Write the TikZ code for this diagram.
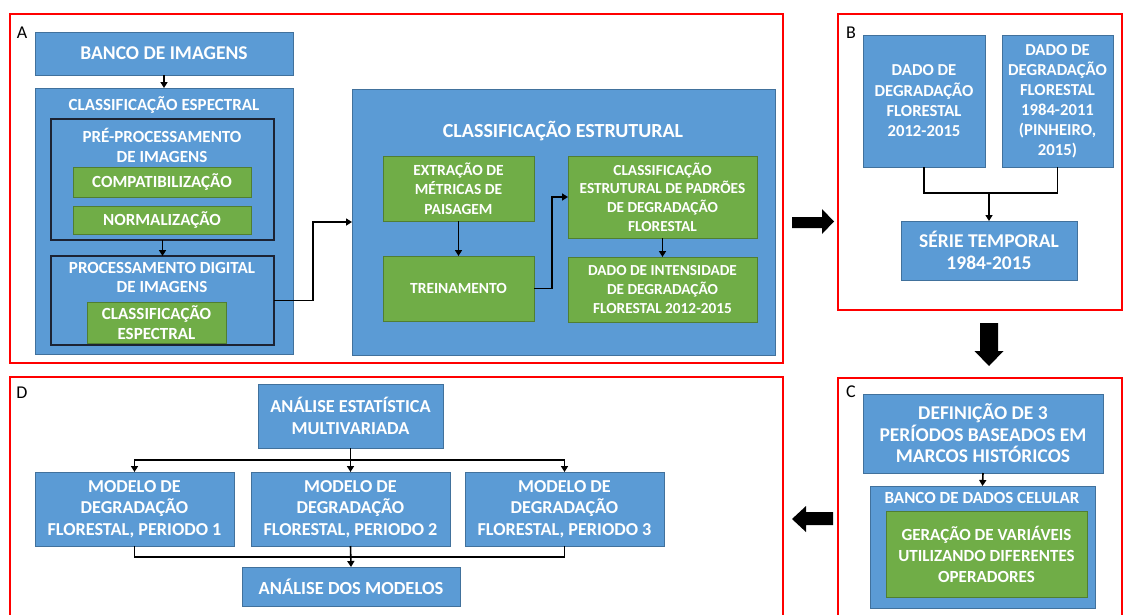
\documentclass[tikz,border=0pt]{standalone}
\usepackage{fontspec}
\setmainfont{Carlito}
\usetikzlibrary{arrows.meta}
\definecolor{bblue}{HTML}{5B9BD5}
\definecolor{bblueb}{HTML}{41719C}
\definecolor{ggreen}{HTML}{70AD47}
\definecolor{ggreenb}{HTML}{507E32}
\definecolor{dframe}{HTML}{1C2333}
\newcommand{\fsz}[2]{\fontsize{#1}{#2}\selectfont}
\tikzset{
  corners/.style n args={4}{minimum width={(#3-#1)*1pt}, minimum height={(#4-#2)*1pt}, at={({(#1+#3)/2},{(#2+#4)/2})}, anchor=center},
  bluebox/.style={fill=bblue, draw=bblueb, line width=0.8pt, inner sep=0pt, outer sep=0pt, text=white, align=center},
  greenbox/.style={fill=ggreen, draw=ggreenb, line width=0.8pt, inner sep=0pt, outer sep=0pt, text=white, align=center},
  darkframe/.style={draw=dframe, line width=1.5pt, inner sep=0pt, outer sep=0pt},
  panel/.style={draw=red, line width=2pt, inner sep=0pt},
  titletext/.style={text=white, align=center, inner sep=0pt},
  plabel/.style={text=black, inner sep=0pt, font=\fsz{18}{20}},
  conn/.style={line width=1.6pt, -{Triangle[length=6pt,width=7pt]}},
  plainline/.style={line width=1.6pt},
  blockarrow/.style={fill=black}
}
\begin{document}
\begin{tikzpicture}[x=1pt,y=-1pt]
\useasboundingbox (0,0) rectangle (1124,614);
\clip (0,0) rectangle (1124,614);
\fill[white] (0,0) rectangle (1124,614);

% panels
\node[panel, corners={10}{14}{783}{363}] (pA) {};
\node[panel, corners={838}{14}{1122}{310}] (pB) {};
\node[panel, corners={838}{378}{1122}{640}] (pC) {};
\node[panel, corners={10}{377}{783}{640}] (pD) {};
\node[plabel] (lA) at (22,33) {A};
\node[plabel] (lB) at (851,33) {B};
\node[plabel] (lC) at (851,392) {C};
\node[plabel] (lD) at (22,393) {D};

% ---------- Panel A ----------
\node[bluebox, font=\bfseries\fsz{19.5}{22}, corners={35}{32}{293}{75}] (banco) {BANCO DE IMAGENS};
\node[bluebox, corners={35}{88}{293}{354}] (cesp) {};
\node[titletext, font=\bfseries\fsz{17}{20}] (cespT) at (164,105) {CLASSIFICAÇÃO ESPECTRAL};
\node[darkframe, corners={51}{119}{274}{240}] (pre) {};
\node[titletext, font=\bfseries\fsz{17}{20}] (preT) at (162,145) {PRÉ-PROCESSAMENTO\\DE IMAGENS};
\node[greenbox, font=\bfseries\fsz{17}{20}, corners={73}{167}{251}{197}] (compat) {COMPATIBILIZAÇÃO};
\node[greenbox, font=\bfseries\fsz{17}{20}, corners={73}{206}{251}{234}] (norm) {NORMALIZAÇÃO};
\node[darkframe, corners={51}{256}{274}{345}] (proc) {};
\node[titletext, font=\bfseries\fsz{17}{19.5}] (procT) at (162,277.5) {PROCESSAMENTO DIGITAL\\DE IMAGENS};
\node[greenbox, font=\bfseries\fsz{17}{20}, corners={87}{302}{226}{343}] (cesp2) {CLASSIFICAÇÃO\\ESPECTRAL};

\node[bluebox, corners={352}{89}{775}{355}] (estr) {};
\node[titletext, font=\bfseries\fsz{20}{22}] (estrT) at (563,131) {CLASSIFICAÇÃO ESTRUTURAL};
\node[greenbox, font=\bfseries\fsz{15.5}{19.5}, corners={383}{156}{534}{221}] (extr) {EXTRAÇÃO DE\\MÉTRICAS DE\\PAISAGEM};
\node[greenbox, font=\bfseries\fsz{15.5}{19}, corners={383}{256}{534}{321}] (trein) {TREINAMENTO};
\node[greenbox, font=\bfseries\fsz{15.3}{18.7}, corners={568}{156}{757}{238}] (padr) {CLASSIFICAÇÃO\\ESTRUTURAL DE PADRÕES\\DE DEGRADAÇÃO\\FLORESTAL};
\node[greenbox, font=\bfseries\fsz{15.3}{19}, corners={568}{257}{757}{322}] (inten) {DADO DE INTENSIDADE\\DE DEGRADAÇÃO\\FLORESTAL 2012-2015};

\draw[conn] (banco.south) -- (cesp.north);
\draw[conn] (pre.south) -- (proc.north);
\draw[conn] (proc.east) -- ++(39,0) |- (estr.west);
\draw[conn] (extr.south) -- (trein.north);
\draw[conn] (trein.east) -- ++(18,0) |- (padr.west);
\draw[conn] (padr.south) -- (inten.north);

% ---------- Panel B ----------
\node[bluebox, font=\bfseries\fsz{16.7}{20.3}, corners={863}{35}{985}{167}] (d1) {DADO DE\\DEGRADAÇÃO\\FLORESTAL\\2012-2015};
\node[bluebox, font=\bfseries\fsz{16.7}{20}, corners={1002}{35}{1113}{167}] (d2) {DADO DE\\DEGRADAÇÃO\\FLORESTAL\\1984-2011\\(PINHEIRO,\\2015)};
\node[bluebox, font=\bfseries\fsz{19.5}{22}, corners={901}{221}{1077}{280}] (serie) {SÉRIE TEMPORAL\\1984-2015};
\coordinate (bj) at (989,193);
\draw[plainline] (d1.south) |- (bj);
\draw[plainline] (d2.south) |- (bj);
\draw[conn] (bj) -- (serie.north);

% ---------- Panel C ----------
\node[bluebox, font=\bfseries\fsz{19.5}{21.5}, corners={863}{394}{1103}{473}] (def) {DEFINIÇÃO DE 3\\PERÍODOS BASEADOS EM\\MARCOS HISTÓRICOS};
\node[bluebox, corners={870}{486}{1095}{608}] (bdc) {};
\node[titletext, font=\bfseries\fsz{17}{20}] (bdcT) at (982,498) {BANCO DE DADOS CELULAR};
\node[greenbox, font=\bfseries\fsz{17}{21}, corners={886}{511}{1087}{597}] (ger) {GERAÇÃO DE VARIÁVEIS\\UTILIZANDO DIFERENTES\\OPERADORES};
\draw[conn] (def.south) -- (bdc.north);

% ---------- Panel D ----------
\node[bluebox, font=\bfseries\fsz{18.3}{22}, corners={258}{384}{443}{448}] (ana) {ANÁLISE ESTATÍSTICA\\MULTIVARIADA};
\node[bluebox, font=\bfseries\fsz{18.2}{21.5}, corners={35}{472}{234}{546}] (m1) {MODELO DE\\DEGRADAÇÃO\\FLORESTAL, PERIODO 1};
\node[bluebox, font=\bfseries\fsz{18.2}{21.5}, corners={251}{472}{450}{546}] (m2) {MODELO DE\\DEGRADAÇÃO\\FLORESTAL, PERIODO 2};
\node[bluebox, font=\bfseries\fsz{18.2}{21.5}, corners={465}{472}{664}{546}] (m3) {MODELO DE\\DEGRADAÇÃO\\FLORESTAL, PERIODO 3};
\node[bluebox, font=\bfseries\fsz{18.5}{20}, corners={242}{567}{460}{606}] (mod) {ANÁLISE DOS MODELOS};
\coordinate (dj) at (350.5,460);
\coordinate (dk) at (350.5,557);
\draw[plainline] (ana.south) -- (dj);
\draw[conn] (dj) -| (m1.north);
\draw[conn] (dj) -| (m3.north);
\draw[conn] (dj) -- (m2.north);
\draw[plainline] (m1.south) |- (dk);
\draw[plainline] (m3.south) |- (dk);
\draw[conn] (m2.south) -- (mod.north);

% ---------- block arrows between panels ----------
\fill[blockarrow] (792,217) -- (822,217) -- (822,209) -- (834,221.5) -- (822,234) -- (822,228) -- (792,228) -- cycle;
\fill[blockarrow] (980,323) -- (998,323) -- (998,351) -- (1003.5,351) -- (989,366) -- (974.5,351) -- (980,351) -- cycle;
\fill[blockarrow] (833,512) -- (806,512) -- (806,506) -- (792,519) -- (806,532) -- (806,525) -- (833,525) -- cycle;
\end{tikzpicture}
\end{document}
